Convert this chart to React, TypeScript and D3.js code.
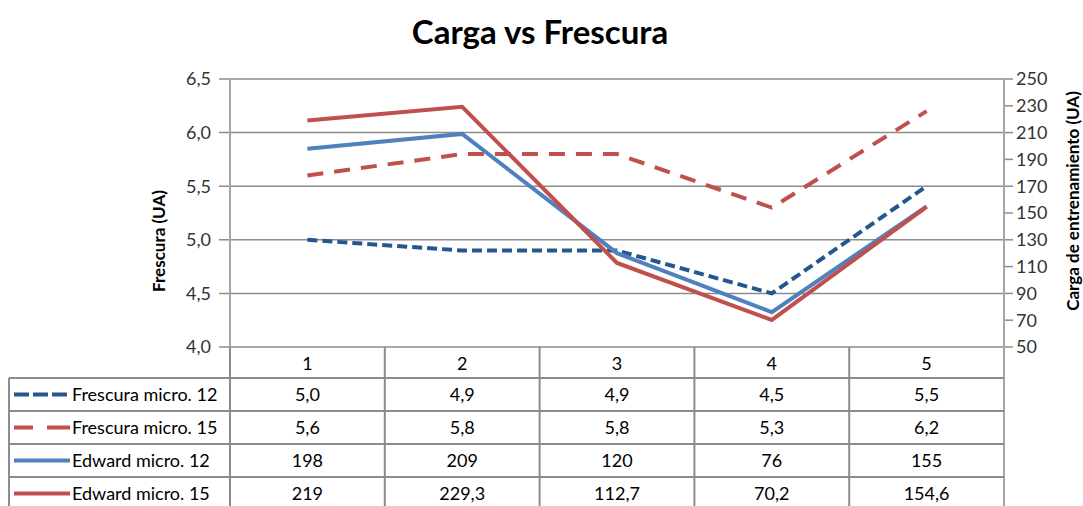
import React, { useEffect, useRef } from 'react';
import * as d3 from 'd3';

const categories = ['1', '2', '3', '4', '5'];
const frescura12 = [5.0, 4.9, 4.9, 4.5, 5.5];
const frescura15 = [5.6, 5.8, 5.8, 5.3, 6.2];
const edward12 = [198, 209, 120, 76, 155];
const edward15 = [219, 229.3, 112.7, 70.2, 154.6];
const leftTicks = [4.0, 4.5, 5.0, 5.5, 6.0, 6.5];
const rightTicks = [50, 70, 90, 110, 130, 150, 170, 190, 210, 230, 250];

const fmt = (v: number, dec: number) => v.toFixed(dec).replace('.', ',');
const fmtAuto = (v: number) => String(v).replace('.', ',');

const series = [
  { name: 'Frescura micro. 12', values: frescura12, axis: 'left', color: '#23578F', dash: '10,5', keyDash: '15,4', label: (v: number) => fmt(v, 1) },
  { name: 'Frescura micro. 15', values: frescura15, axis: 'left', color: '#C0504D', dash: '16,11', keyDash: '19,14,25', label: (v: number) => fmt(v, 1) },
  { name: 'Edward micro. 12', values: edward12, axis: 'right', color: '#4F81BD', dash: null, keyDash: null, label: fmtAuto },
  { name: 'Edward micro. 15', values: edward15, axis: 'right', color: '#C0504D', dash: null, keyDash: null, label: fmtAuto },
];

const W = 1083;
const H = 506;
const FONT = 'Lato, "Open Sans", sans-serif';

const App = () => {
  const ref = useRef<SVGSVGElement>(null);

  useEffect(() => {
    const svg = d3.select(ref.current);
    svg.selectAll('*').remove();

    const left = 230;
    const right = 1004;
    const top = 79;
    const bottom = 347;
    const rowH = 33;
    const headerH = 31;
    const tableLeft = 9;

    const x = d3.scaleBand().domain(categories).range([left, right]);
    const yL = d3.scaleLinear().domain([4, 6.5]).range([bottom, top]);
    const yR = d3.scaleLinear().domain([50, 250]).range([bottom, top]);

    // titulo
    svg.append('text')
      .attr('x', 540).attr('y', 44)
      .attr('text-anchor', 'middle')
      .attr('font-family', FONT).attr('font-weight', 'bold').attr('font-size', 33)
      .attr('fill', '#000')
      .text('Carga vs Frescura');

    // rejilla
    svg.append('g').selectAll('line').data(leftTicks).enter().append('line')
      .attr('x1', left - 11).attr('x2', right)
      .attr('y1', d => yL(d)).attr('y2', d => yL(d))
      .attr('stroke', '#8C8C8C').attr('stroke-width', 1.5);

    // etiquetas eje izquierdo
    svg.append('g').selectAll('text').data(leftTicks).enter().append('text')
      .attr('x', 211).attr('y', d => yL(d)).attr('dy', '0.35em')
      .attr('text-anchor', 'end')
      .attr('font-family', FONT).attr('font-size', 18).attr('fill', '#333')
      .text(d => fmt(d, 1));

    // eje derecho
    svg.append('g').selectAll('line').data(rightTicks).enter().append('line')
      .attr('x1', right).attr('x2', right + 9)
      .attr('y1', d => yR(d)).attr('y2', d => yR(d))
      .attr('stroke', '#8C8C8C').attr('stroke-width', 1.5);
    svg.append('g').selectAll('text').data(rightTicks).enter().append('text')
      .attr('x', 1016).attr('y', d => yR(d)).attr('dy', '0.35em')
      .attr('font-family', FONT).attr('font-size', 18).attr('fill', '#333')
      .text(d => String(d));

    // ejes verticales
    [left, right].forEach(xx => {
      svg.append('line')
        .attr('x1', xx).attr('x2', xx).attr('y1', top).attr('y2', H)
        .attr('stroke', '#A6A6A6').attr('stroke-width', 2);
    });

    // titulos de ejes
    svg.append('text')
      .attr('transform', 'translate(165,241) rotate(-90)')
      .attr('text-anchor', 'middle')
      .attr('font-family', FONT).attr('font-weight', 'bold').attr('font-size', 17)
      .text('Frescura (UA)');
    svg.append('text')
      .attr('transform', 'translate(1079,201) rotate(-90)')
      .attr('text-anchor', 'middle')
      .attr('font-family', FONT).attr('font-weight', 'bold').attr('font-size', 17)
      .text('Carga de entrenamiento (UA)');

    // tabla de datos
    const tableTop = bottom + headerH;
    const gT = svg.append('g');
    categories.forEach(c => {
      gT.append('line')
        .attr('x1', x(c)!).attr('x2', x(c)!).attr('y1', bottom).attr('y2', H)
        .attr('stroke', '#8C8C8C').attr('stroke-width', 2);
    });
    gT.append('line')
      .attr('x1', tableLeft).attr('x2', tableLeft).attr('y1', tableTop).attr('y2', H)
      .attr('stroke', '#8C8C8C').attr('stroke-width', 2);
    series.forEach((s, i) => {
      gT.append('line')
        .attr('x1', tableLeft).attr('x2', right)
        .attr('y1', tableTop + i * rowH).attr('y2', tableTop + i * rowH)
        .attr('stroke', '#8C8C8C').attr('stroke-width', 2);
    });
    gT.selectAll('text.cat').data(categories).enter().append('text')
      .attr('x', d => x(d)! + x.bandwidth() / 2).attr('y', bottom + headerH / 2 + 1).attr('dy', '0.35em')
      .attr('text-anchor', 'middle')
      .attr('font-family', FONT).attr('font-size', 18).attr('fill', '#000')
      .text(d => d);

    series.forEach((s, i) => {
      const cy = tableTop + i * rowH + rowH / 2;
      gT.append('line')
        .attr('x1', 14).attr('x2', 70).attr('y1', cy).attr('y2', cy)
        .attr('stroke', s.color).attr('stroke-width', 4)
        .attr('stroke-dasharray', s.keyDash);
      gT.append('text')
        .attr('x', 72).attr('y', cy).attr('dy', '0.35em')
        .attr('font-family', FONT).attr('font-size', 18).attr('fill', '#000')
        .text(s.name);
      gT.selectAll(null).data(s.values).enter().append('text')
        .attr('x', (d, j) => x(categories[j])! + x.bandwidth() / 2)
        .attr('y', cy).attr('dy', '0.35em')
        .attr('text-anchor', 'middle')
        .attr('font-family', FONT).attr('font-size', 18).attr('fill', '#000')
        .text(d => s.label(d));
    });

    // lineas
    series.forEach(s => {
      const yS = s.axis === 'left' ? yL : yR;
      const line = d3.line<number>()
        .x((d, j) => x(categories[j])! + x.bandwidth() / 2)
        .y(d => yS(d));
      svg.append('path')
        .datum(s.values)
        .attr('d', line)
        .attr('fill', 'none')
        .attr('stroke', s.color)
        .attr('stroke-width', 4)
        .attr('stroke-dasharray', s.dash);
    });
  }, []);

  return (
    <svg ref={ref} width={W} height={H} style={{ position: 'absolute', left: 0, top: 0, background: '#fff' }} />
  );
};

export default App;
